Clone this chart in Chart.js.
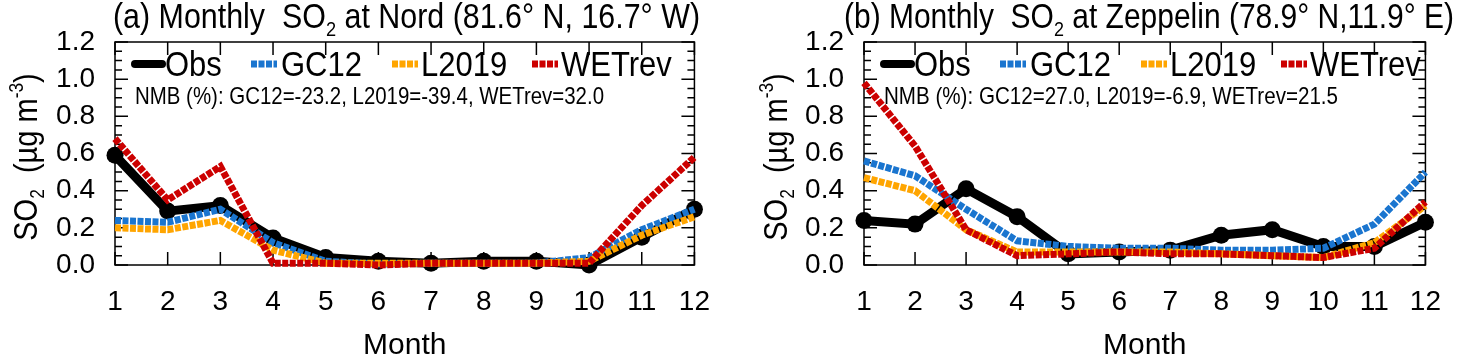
<!DOCTYPE html>
<html>
<head>
<meta charset="utf-8">
<script src="https://cdn.jsdelivr.net/npm/chart.js@4.4.0/dist/chart.umd.min.js"></script>
<style>
  body { margin: 0; background: #fff; width: 1461px; height: 356px; overflow: hidden; }
  .panel { position: absolute; top: 0; }
</style>
</head>
<body>
<div class="panel" style="left:0"><canvas id="nord" width="730" height="356"></canvas></div>
<div class="panel" style="left:730px"><canvas id="zeppelin" width="731" height="356"></canvas></div>
<script>
var months = ["1", "2", "3", "4", "5", "6", "7", "8", "9", "10", "11", "12"]
var yTicks = [0, 0.2, 0.4, 0.6, 0.8, 1.0, 1.2]

// (a) Nord
var nordObs    = [0.59, 0.29, 0.32, 0.145, 0.04, 0.02, 0.01, 0.02, 0.02, 0.0, 0.15, 0.30]
var nordGC12   = [0.24, 0.23, 0.30, 0.12, 0.02, 0.005, 0.01, 0.01, 0.01, 0.04, 0.19, 0.30]
var nordL2019  = [0.20, 0.19, 0.24, 0.08, 0.01, 0.01, 0.01, 0.01, 0.01, 0.02, 0.16, 0.26]
var nordWETrev = [0.68, 0.35, 0.53, 0.01, 0.01, 0.0, 0.01, 0.01, 0.01, 0.01, 0.32, 0.58]
var nordNMB = "NMB (%): GC12=-23.2, L2019=-39.4, WETrev=32.0"

// (b) Zeppelin
var zepObs    = [0.24, 0.22, 0.41, 0.26, 0.06, 0.07, 0.08, 0.16, 0.19, 0.10, 0.10, 0.23]
var zepGC12   = [0.56, 0.48, 0.30, 0.13, 0.10, 0.09, 0.09, 0.08, 0.08, 0.09, 0.22, 0.50]
var zepL2019  = [0.47, 0.40, 0.19, 0.07, 0.07, 0.07, 0.07, 0.06, 0.05, 0.04, 0.12, 0.32]
var zepWETrev = [0.98, 0.64, 0.19, 0.05, 0.06, 0.07, 0.06, 0.06, 0.05, 0.04, 0.09, 0.34]
var zepNMB = "NMB (%): GC12=27.0, L2019=-6.9, WETrev=21.5"

var seriesNames = ["Obs", "GC12", "L2019", "WETrev"]
var seriesColors = ["#000000", "#1a75cf", "#ffa500", "#cc0000"]

var FONT = '"Liberation Sans", Arial, Helvetica, sans-serif'

function richWidth(ctx, parts, size) {
    var w = 0
    parts.forEach(function (p) {
        ctx.font = ((p.sub || p.sup) ? size * 0.6 : size) + "px " + FONT
        w += ctx.measureText(p.t).width
    })
    return w
}

// draw text with sub/superscripts, optionally squeezed to a width and stretched upward
function drawRich(ctx, parts, x, y, size, fitWidth, sy) {
    var w = richWidth(ctx, parts, size)
    ctx.save()
    ctx.translate(x, y)
    ctx.scale(fitWidth ? fitWidth / w : 1, sy || 1)
    ctx.fillStyle = "#000"
    ctx.textBaseline = "alphabetic"
    ctx.textAlign = "left"
    var cx = 0
    parts.forEach(function (p) {
        var s = (p.sub || p.sup) ? size * 0.6 : size
        var dy = p.sub ? size * 0.22 : (p.sup ? -size * 0.42 : 0)
        ctx.font = s + "px " + FONT
        ctx.fillText(p.t, cx, dy)
        cx += ctx.measureText(p.t).width
    })
    ctx.restore()
    return w
}

var frameAndTicks = {
    id: "frameAndTicks",
    beforeDatasetsDraw: function (chart) {
        var ctx = chart.ctx, a = chart.chartArea
        var x = chart.scales.x, y = chart.scales.y
        ctx.save()
        ctx.strokeStyle = "#000"
        ctx.lineWidth = 1.5
        ctx.strokeRect(a.left, a.top, a.right - a.left, a.bottom - a.top)
        ctx.beginPath()
        for (var i = 0; i < months.length; i++) {
            var px = x.getPixelForValue(i)
            ctx.moveTo(px, a.bottom); ctx.lineTo(px, a.bottom - 13)
            ctx.moveTo(px, a.top); ctx.lineTo(px, a.top + 13)
        }
        for (var k = 0; k <= 24; k++) {
            var py = y.getPixelForValue(k * 0.05)
            var len = (k % 4 == 0) ? 13 : 7
            ctx.moveTo(a.left, py); ctx.lineTo(a.left + len, py)
            ctx.moveTo(a.right, py); ctx.lineTo(a.right - len, py)
        }
        ctx.stroke()
        ctx.restore()
    },
    afterDraw: function (chart) {
        var o = chart.options.plugins.frameAndTicks
        var ctx = chart.ctx, a = chart.chartArea
        // title
        drawRich(ctx, o.title, o.titleX, 28, 30, o.titleW, 1.15)
        // y axis title, rotated
        var yt = [{ t: "SO" }, { t: "2", sub: true }, { t: "  (\u00b5g m" }, { t: "-3", sup: true }, { t: ")" }]
        ctx.save()
        ctx.translate(o.yTitleX, 157)
        ctx.rotate(-Math.PI / 2)
        var w = richWidth(ctx, yt, 29)
        drawRich(ctx, yt, -w / 2, 0, 29, null, 1.12)
        ctx.restore()
        // legend
        var ly = a.top + 22
        var marks = [[20, 47, 50], [136, 162, 166], [277, 303, 306], [417, 443, 446]]
        for (var i = 0; i < 4; i++) {
            ctx.save()
            ctx.strokeStyle = seriesColors[i]
            ctx.lineWidth = i == 0 ? 8 : 7
            ctx.lineCap = i == 0 ? "round" : "butt"
            if (i > 0) ctx.setLineDash([6, 1.5])
            ctx.beginPath()
            ctx.moveTo(a.left + marks[i][0], ly)
            ctx.lineTo(a.left + marks[i][1], ly)
            ctx.stroke()
            ctx.restore()
            drawRich(ctx, [{ t: seriesNames[i] }], a.left + marks[i][2], ly + 12, 31, null, 1.15)
        }
        // NMB
        drawRich(ctx, [{ t: o.nmb }], a.left + 20, a.top + 62, 21, o.nmbW, 1.12)
    }
}

function makeChart(id, obs, gc12, l2019, wetrev, extra) {
    var vals = [obs, gc12, l2019, wetrev]
    var datasets = vals.map(function (v, i) {
        return {
            label: seriesNames[i],
            data: v,
            borderColor: seriesColors[i],
            backgroundColor: seriesColors[i],
            borderWidth: i == 0 ? 9 : 7,
            borderDash: i == 0 ? [] : [6, 1.5],
            pointRadius: i == 0 ? 8.5 : 0,
            pointBorderWidth: 0,
            tension: 0,
            clip: false,
            order: 4 - i
        }
    })
    return new Chart(document.getElementById(id), {
        type: "line",
        data: { labels: months, datasets: datasets },
        options: {
            responsive: false,
            animation: false,
            devicePixelRatio: 1,
            layout: { padding: { top: 42, right: extra.padRight, left: 0, bottom: 0 } },
            plugins: {
                legend: { display: false },
                title: { display: false },
                tooltip: { enabled: false },
                frameAndTicks: extra
            },
            scales: {
                x: {
                    type: "category",
                    offset: false,
                    grid: { display: false, drawTicks: false },
                    border: { display: false },
                    ticks: { color: "#000", font: { family: FONT, size: 28 }, padding: 20, maxRotation: 0, autoSkip: false },
                    title: { display: true, text: "Month", color: "#000", font: { family: FONT, size: 30, lineHeight: 0.7 }, padding: 0 },
                    afterFit: function (s) { s.height = 91 }
                },
                y: {
                    min: 0,
                    max: 1.2,
                    grid: { display: false, drawTicks: false },
                    border: { display: false },
                    afterBuildTicks: function (s) { s.ticks = yTicks.map(function (v) { return { value: v } }) },
                    ticks: { color: "#000", font: { family: FONT, size: 28 }, padding: 20, callback: function (v) { return v.toFixed(1) } },
                    afterFit: function (s) { s.width = extra.yWidth }
                }
            }
        },
        plugins: [frameAndTicks]
    })
}

makeChart("nord", nordObs, nordGC12, nordL2019, nordWETrev, {
    yWidth: 115, padRight: 33, yTitleX: 37,
    title: [{ t: "(a) Monthly  SO" }, { t: "2", sub: true }, { t: " at Nord (81.6\u00b0 N, 16.7\u00b0 W)" }],
    titleX: 113, titleW: 587,
    nmb: nordNMB, nmbW: 469
})

makeChart("zeppelin", zepObs, zepGC12, zepL2019, zepWETrev, {
    yWidth: 134, padRight: 15, yTitleX: 57,
    title: [{ t: "(b) Monthly  SO" }, { t: "2", sub: true }, { t: " at Zeppelin (78.9\u00b0 N,11.9\u00b0 E)" }],
    titleX: 114, titleW: 610,
    nmb: zepNMB, nmbW: 454
})
</script>
</body>
</html>
